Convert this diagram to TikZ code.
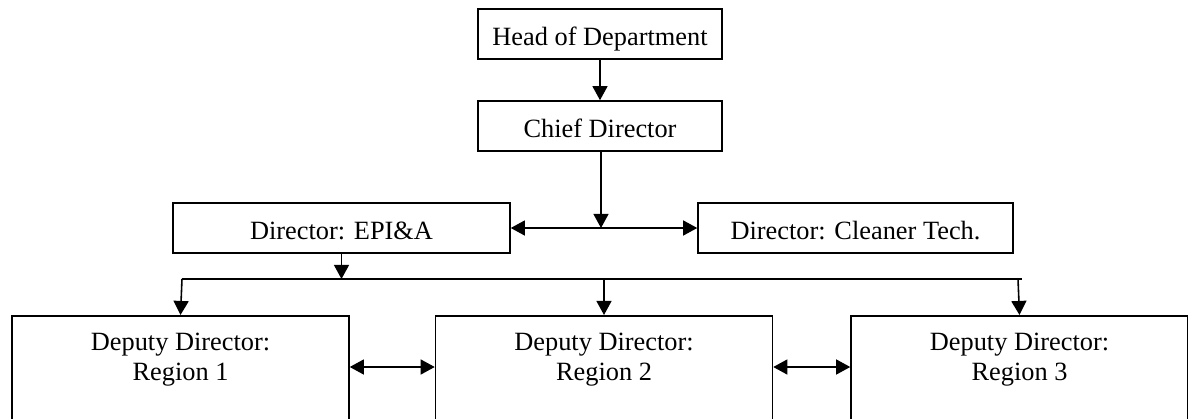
\documentclass[tikz,border=0pt]{standalone}
\usepackage{fontspec}
\setmainfont{Liberation Serif}
\usetikzlibrary{arrows.meta, positioning}

\begin{document}
\begin{tikzpicture}[
      x=0.02cm, y=-0.02cm,
      font=\fontsize{15}{17.1}\selectfont,
      line width=0.9pt,
      >={Triangle[length=8pt, width=8.5pt]},
      box/.style={draw, minimum width=#1, minimum height=1cm, inner sep=0pt,
                  text height=12.6pt, text depth=0pt},
      regbox/.style={draw, anchor=north, align=center, minimum width=6.74cm,
                     text height=37pt, text depth=30pt, inner sep=0pt}
    ]
    \path[use as bounding box, clip] (0,0) rectangle (1188,419);

    \node[box=4.88cm] (head) at (600,34) {Head of Department};
    \node[box=4.88cm] (chief) at (600,126) {Chief Director};
    \node[box=6.74cm] (epi) at (341.5,228) {Director: EPI\&A};
    \node[box=6.3cm] (clean) at (855.5,228) {Director: Cleaner Tech.};
    \node[regbox] (reg1) at (180.5,315) {Deputy Director:\\Region 1};
    \node[regbox] (reg2) at (604,315) {Deputy Director:\\Region 2};
    \node[regbox] (reg3) at (1019.5,315) {Deputy Director:\\Region 3};

    % junction and bus line
    \coordinate (split) at (601,228);
    \coordinate (busL) at (182,279);
    \coordinate (busM) at (604,279);
    \coordinate (busR) at (1018,279);
    \coordinate (busEnd) at (1022,279);

    \draw[->] (head) -- (chief);
    \draw[->] (chief.south -| split) -- (split);
    \draw[<->] (epi) -- (clean);
    \draw (busL) -- (busEnd);
    \draw[->] (epi.south) -- (epi.south |- busL);
    \draw[->] (busL) -- (reg1.north);
    \draw[->] (busM) -- (reg2.north);
    \draw[->] (busR) -- (reg3.north);
    \draw[<->] (reg1.east |- 0,367) -- (reg2.west |- 0,367);
    \draw[<->] (reg2.east |- 0,367) -- (reg3.west |- 0,367);
  \end{tikzpicture}
\end{document}
